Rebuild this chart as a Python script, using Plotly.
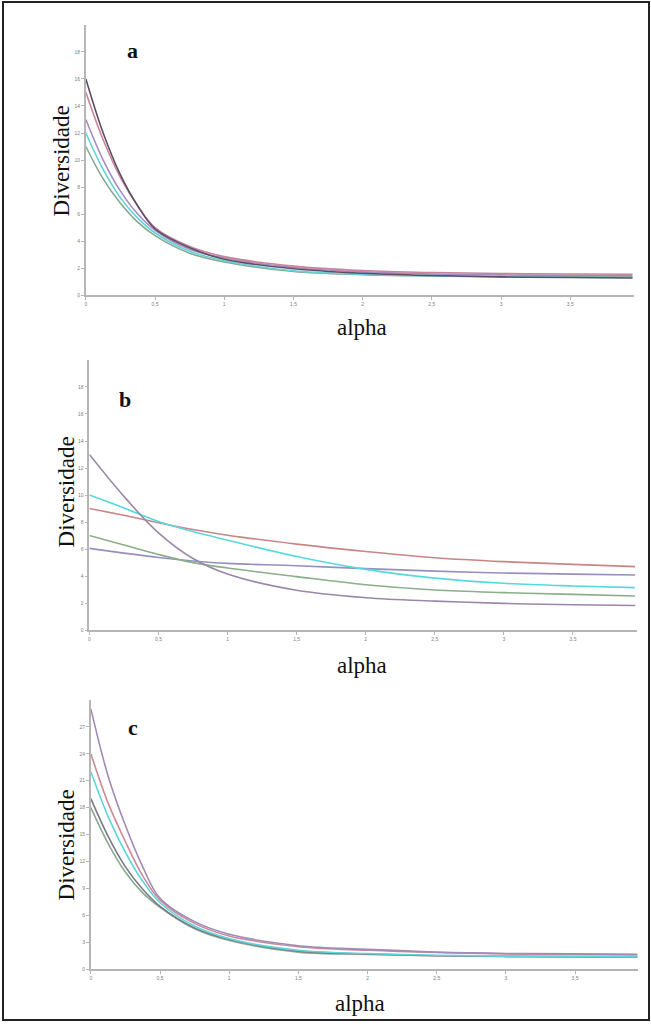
import plotly.graph_objects as go

W, H = 651, 1025

# ---- data ----
ALPHA = [0, 0.125, 0.25, 0.375, 0.5, 0.75, 1, 1.5, 2, 2.5, 3, 3.5, 3.95]
ALPHA_B = [0, 0.25, 0.5, 0.75, 1, 1.5, 2, 2.5, 3, 3.5, 3.95]

a_dark = [16, 12.0, 8.9, 6.6, 4.9, 3.5, 2.65, 1.95, 1.62, 1.45, 1.35, 1.3, 1.27]
a_pink = [15, 11.5, 8.7, 6.6, 5.0, 3.6, 2.85, 2.15, 1.82, 1.67, 1.6, 1.56, 1.55]
a_purple = [13, 10.0, 7.7, 6.0, 4.8, 3.4, 2.75, 2.05, 1.72, 1.57, 1.5, 1.46, 1.45]
a_cyan = [12, 9.3, 7.2, 5.7, 4.6, 3.25, 2.55, 1.8, 1.55, 1.42, 1.36, 1.32, 1.3]
a_green = [11, 8.6, 6.8, 5.4, 4.4, 3.1, 2.45, 1.75, 1.52, 1.42, 1.37, 1.35, 1.35]

b_gray = [13, 9.9, 7.2, 5.3, 4.15, 2.95, 2.4, 2.15, 1.98, 1.88, 1.82]
b_cyan = [10, 9.05, 8.05, 7.3, 6.66, 5.45, 4.5, 3.85, 3.47, 3.27, 3.15]
b_red = [9, 8.5, 7.95, 7.45, 7.03, 6.37, 5.82, 5.36, 5.07, 4.87, 4.7]
b_green = [7, 6.3, 5.6, 5.0, 4.6, 3.96, 3.36, 2.97, 2.78, 2.65, 2.53]
b_purple = [6.05, 5.7, 5.38, 5.12, 4.94, 4.77, 4.55, 4.37, 4.23, 4.15, 4.08]

c_purple = [29, 21.5, 16, 11.4, 7.9, 5.3, 3.9, 2.6, 2.2, 1.9, 1.75, 1.7, 1.65]
c_red = [24, 18.5, 14.2, 10.4, 7.7, 5.1, 3.7, 2.5, 2.1, 1.85, 1.7, 1.65, 1.6]
c_cyan = [22, 17, 13.0, 9.8, 7.4, 4.8, 3.4, 2.1, 1.75, 1.55, 1.45, 1.4, 1.4]
c_gray = [19, 14.8, 11.4, 8.9, 7.0, 4.6, 3.3, 2.0, 1.7, 1.5, 1.4, 1.35, 1.35]
c_green = [18, 14.0, 10.8, 8.5, 6.9, 4.5, 3.2, 1.9, 1.65, 1.5, 1.45, 1.4, 1.4]

x_tickvals = [0, 0.5, 1, 1.5, 2, 2.5, 3, 3.5]
x_ticktext = ["0", "0,5", "1", "1,5", "2", "2,5", "3", "3,5"]
y_ticks_ab = [0, 2, 4, 6, 8, 10, 12, 14, 16, 18]
y_ticks_c = [0, 3, 6, 9, 12, 15, 18, 21, 24, 27]

panels = [
    dict(name="a", x=ALPHA, ys=[a_green, a_cyan, a_purple, a_pink, a_dark],
         colors=["#86a98e", "#63d3d8", "#a38ec4", "#c9849a", "#5e4e66"]),
    dict(name="b", x=ALPHA_B, ys=[b_purple, b_green, b_red, b_cyan, b_gray],
         colors=["#9590c0", "#8aae8a", "#c98585", "#55d9e0", "#9a88a8"]),
    dict(name="c", x=ALPHA, ys=[c_green, c_gray, c_cyan, c_red, c_purple],
         colors=["#8aaa8e", "#7a7a8a", "#5fd6dc", "#cc8a96", "#a08ab8"]),
]

# pixel geometry of each panel: (left, right, bottom, top, xmax, ymax)
geom = [
    (85, 634, 296, 25, 3.961, 20),
    (88.5, 636.5, 632, 361, 3.96, 20),
    (90, 638, 972, 702, 3.955, 30),
]

fig = go.Figure()
layout = dict(width=W, height=H, margin=dict(l=0, r=0, t=0, b=0),
              paper_bgcolor="white", plot_bgcolor="white", showlegend=False)

axis_common = dict(showgrid=False, zeroline=False, showline=True,
                   linecolor="#b5b5b5", linewidth=1.5, ticks="outside",
                   ticklen=3, tickcolor="#b5b5b5",
                   tickfont=dict(size=5, color="#808080", family="Liberation Sans"))

for i, (p, g) in enumerate(zip(panels, geom)):
    l, r, bt, tp, xmax, ymax = g
    sfx = "" if i == 0 else str(i + 1)
    for ys, col in zip(p["ys"], p["colors"]):
        fig.add_trace(go.Scatter(x=p["x"], y=ys, mode="lines",
                                 line=dict(color=col, width=1.6, shape="spline", smoothing=1.0),
                                 xaxis="x" + sfx, yaxis="y" + sfx))
    layout["xaxis" + sfx] = dict(axis_common, domain=[l / W, r / W], range=[0, xmax],
                                 anchor="y" + sfx, tickvals=x_tickvals, ticktext=x_ticktext)
    layout["yaxis" + sfx] = dict(axis_common, domain=[1 - bt / H, 1 - tp / H], range=[0, ymax],
                                 anchor="x" + sfx,
                                 tickvals=y_ticks_c if i == 2 else y_ticks_ab)

fig.update_layout(**layout)

serif = "Liberation Serif"
ann = []
ylab_pos = [(61, 161), (66, 493), (66, 847)]
alpha_pos = [(362, 328), (362, 667), (360, 1006)]
letter_pos = [(132, 51), (124, 401), (132, 730)]
for (yx, yy), (ax, ay), (lx, ly), p in zip(ylab_pos, alpha_pos, letter_pos, panels):
    ann.append(dict(text="Diversidade", x=yx / W, y=1 - yy / H, xref="paper", yref="paper",
                    showarrow=False, textangle=-90, xanchor="center", yanchor="middle",
                    font=dict(family=serif, size=23, color="#111111")))
    ann.append(dict(text="alpha", x=ax / W, y=1 - ay / H, xref="paper", yref="paper",
                    showarrow=False, xanchor="center", yanchor="middle",
                    font=dict(family=serif, size=23, color="#111111")))
    ann.append(dict(text="<b>" + p["name"] + "</b>", x=lx / W, y=1 - ly / H, xref="paper",
                    yref="paper", showarrow=False, xanchor="center", yanchor="middle",
                    font=dict(family=serif, size=22, color="#111111")))
fig.update_layout(annotations=ann)

fig.add_shape(type="rect", xref="paper", yref="paper", x0=2 / W, x1=1 - 2 / W,
              y0=2 / H, y1=1 - 2 / H, line=dict(color="#222222", width=2))

fig.write_html("out.html", config={"displayModeBar": False},
               post_script="document.body.style.margin='0';document.body.style.overflow='hidden';")
